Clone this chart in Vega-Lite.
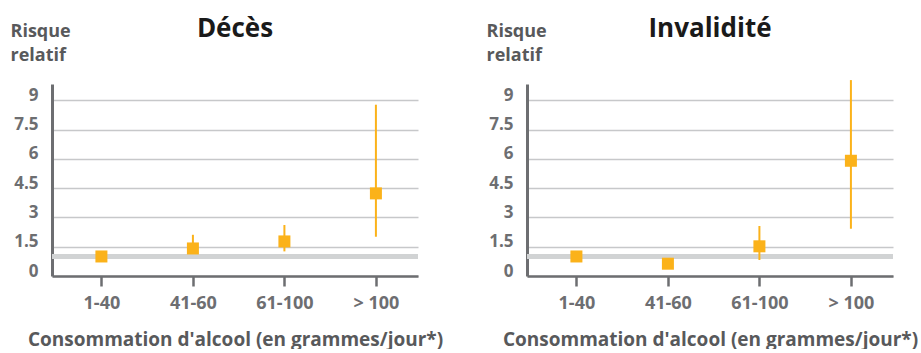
{
  "$schema": "https://vega.github.io/schema/vega-lite/v6.json",
  "padding": {"left": 10, "top": 16, "right": 0, "bottom": 0},
  "spacing": 43,
  "data": {
    "values": [
      {"panel": "Décès", "cat": "1-40", "rr": 1.0, "lower": null, "upper": null},
      {"panel": "Décès", "cat": "41-60", "rr": 1.41, "lower": 1.2, "upper": 2.11},
      {"panel": "Décès", "cat": "61-100", "rr": 1.77, "lower": 1.26, "upper": 2.61},
      {"panel": "Décès", "cat": "> 100", "rr": 4.23, "lower": 2.01, "upper": 8.77},
      {"panel": "Invalidité", "cat": "1-40", "rr": 1.0, "lower": null, "upper": null},
      {"panel": "Invalidité", "cat": "41-60", "rr": 0.63, "lower": null, "upper": null},
      {"panel": "Invalidité", "cat": "61-100", "rr": 1.52, "lower": 0.82, "upper": 2.56},
      {"panel": "Invalidité", "cat": "> 100", "rr": 5.9, "lower": 2.42, "upper": 10.03}
    ]
  },
  "config": {
    "view": {"stroke": null},
    "font": "Open Sans",
    "axisX": {
      "domainColor": "#6d6e71", "domainWidth": 2.5,
      "tickColor": "#6d6e71", "tickWidth": 2.5, "tickSize": 10,
      "labelFont": "Open Sans", "labelFontSize": 18, "labelFontWeight": "bold", "labelColor": "#6d6e71",
      "labelPadding": 8, "labelAngle": 0,
      "titleFont": "Open Sans", "titleFontSize": 19, "titleFontWeight": "bold", "titleColor": "#58595b",
      "titlePadding": 18, "grid": false
    },
    "axisY": {
      "domainColor": "#6d6e71", "domainWidth": 3,
      "ticks": false, "labelPadding": 14, "labelOffset": -5, "labelOverlap": false,
      "labelFont": "Open Sans", "labelFontSize": 17, "labelFontWeight": "bold", "labelColor": "#6d6e71",
      "grid": true, "gridColor": "#c7c8ca", "gridWidth": 1.3,
      "titleFont": "Open Sans", "titleFontSize": 18, "titleFontWeight": "bold", "titleColor": "#58595b",
      "titleAngle": 0, "titleAlign": "left", "titleBaseline": "alphabetic",
      "titleX": -42, "titleY": -48, "titleLineHeight": 24
    }
  },
  "hconcat": [
    {
      "width": 366, "height": 192,
      "title": {"text": "Décès", "fontSize": 26, "fontWeight": "bold", "color": "#1a1a1a", "font": "Open Sans", "anchor": "middle", "frame": "group", "offset": -20},
      "transform": [{"filter": "datum.panel === 'Décès'"}],
      "layer": [
        {
          "mark": {"type": "rule", "color": "#d1d3d4", "strokeWidth": 5},
          "encoding": {
            "y": {"datum": 1, "type": "quantitative", "scale": {"domain": [0, 9.83]},
              "axis": {"title": ["Risque", "relatif"], "values": [0, 1.5, 3, 4.5, 6, 7.5, 9], "format": ".1~f"}}
          }
        },
        {
          "mark": {"type": "rule", "color": "#fbb21a", "strokeWidth": 2},
          "encoding": {
            "x": {"field": "cat", "type": "ordinal", "sort": ["1-40", "41-60", "61-100", "> 100"], "scale": {"type": "point", "padding": 0.5, "align": 0.54},
              "axis": {"title": "Consommation d'alcool (en grammes/jour*)"}},
            "y": {"field": "lower", "type": "quantitative", "scale": {"domain": [0, 9.83]},
              "axis": {"title": ["Risque", "relatif"], "values": [0, 1.5, 3, 4.5, 6, 7.5, 9], "format": ".1~f"}},
            "y2": {"field": "upper"}
          }
        },
        {
          "mark": {"type": "point", "shape": "square", "filled": true, "opacity": 1, "color": "#fbb21a", "size": 144},
          "encoding": {
            "x": {"field": "cat", "type": "ordinal", "sort": ["1-40", "41-60", "61-100", "> 100"], "scale": {"type": "point", "padding": 0.5, "align": 0.54},
              "axis": {"title": "Consommation d'alcool (en grammes/jour*)"}},
            "y": {"field": "rr", "type": "quantitative", "scale": {"domain": [0, 9.83]},
              "axis": {"title": ["Risque", "relatif"], "values": [0, 1.5, 3, 4.5, 6, 7.5, 9], "format": ".1~f"}}
          }
        }
      ]
    },
    {
      "width": 366, "height": 192,
      "title": {"text": "Invalidité", "fontSize": 26, "fontWeight": "bold", "color": "#1a1a1a", "font": "Open Sans", "anchor": "middle", "frame": "group", "offset": -20},
      "transform": [{"filter": "datum.panel === 'Invalidité'"}],
      "layer": [
        {
          "mark": {"type": "rule", "color": "#d1d3d4", "strokeWidth": 5},
          "encoding": {
            "y": {"datum": 1, "type": "quantitative", "scale": {"domain": [0, 9.83]},
              "axis": {"title": ["Risque", "relatif"], "titleX": -41, "values": [0, 1.5, 3, 4.5, 6, 7.5, 9], "format": ".1~f"}}
          }
        },
        {
          "mark": {"type": "rule", "color": "#fbb21a", "strokeWidth": 2},
          "encoding": {
            "x": {"field": "cat", "type": "ordinal", "sort": ["1-40", "41-60", "61-100", "> 100"], "scale": {"type": "point", "padding": 0.5, "align": 0.54},
              "axis": {"title": "Consommation d'alcool (en grammes/jour*)"}},
            "y": {"field": "lower", "type": "quantitative", "scale": {"domain": [0, 9.83]},
              "axis": {"title": ["Risque", "relatif"], "titleX": -41, "values": [0, 1.5, 3, 4.5, 6, 7.5, 9], "format": ".1~f"}},
            "y2": {"field": "upper"}
          }
        },
        {
          "mark": {"type": "point", "shape": "square", "filled": true, "opacity": 1, "color": "#fbb21a", "size": 144},
          "encoding": {
            "x": {"field": "cat", "type": "ordinal", "sort": ["1-40", "41-60", "61-100", "> 100"], "scale": {"type": "point", "padding": 0.5, "align": 0.54},
              "axis": {"title": "Consommation d'alcool (en grammes/jour*)"}},
            "y": {"field": "rr", "type": "quantitative", "scale": {"domain": [0, 9.83]},
              "axis": {"title": ["Risque", "relatif"], "titleX": -41, "values": [0, 1.5, 3, 4.5, 6, 7.5, 9], "format": ".1~f"}}
          }
        }
      ]
    }
  ]
}
